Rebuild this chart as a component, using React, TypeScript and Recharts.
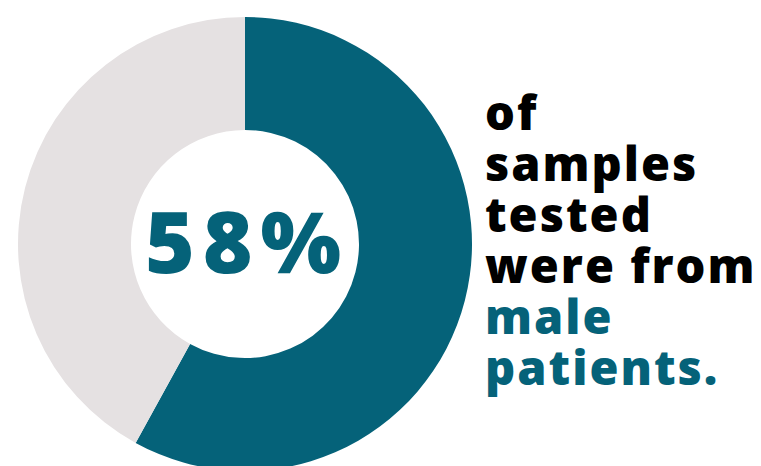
import React from "react";
import { PieChart, Pie, Cell, Customized } from "recharts";

const categories = ["Male", "Female"];
const shares = [58, 42];
const colors = ["#056279", "#E5E1E2"];
const centerLabel = "58%";
const captionLines = ["of", "samples", "tested", "were from", "male", "patients."];
const captionColors = ["#000000", "#000000", "#000000", "#000000", "#056279", "#056279"];

const data = categories.map((name, i) => ({ name, value: shares[i] }));

const FONT = "'Open Sans', 'Noto Sans', sans-serif";

const Texts = () => (
  <g>
    <text x={247} y={273} textAnchor="middle" fontFamily={FONT} fontWeight={800} fontSize={85} letterSpacing={8} fill="#056279">
      {centerLabel}
    </text>
    <text x={485} y={130} fontFamily={FONT} fontWeight={800} fontSize={47} letterSpacing={2}>
      {captionLines.map((t, i) => (
        <tspan key={t} x={485} dy={i === 0 ? 0 : 51} fill={captionColors[i]}>
          {t}
        </tspan>
      ))}
    </text>
  </g>
);

export default function App() {
  return (
    <div style={{ position: "fixed", left: 0, top: 0, width: 761, height: 466, background: "#fff" }}>
      <PieChart width={761} height={466} margin={{ top: 0, right: 0, bottom: 0, left: 0 }}>
        <Pie
          data={data}
          dataKey="value"
          nameKey="name"
          cx={245}
          cy={244}
          innerRadius={114}
          outerRadius={227}
          startAngle={90}
          endAngle={-270}
          stroke="none"
          isAnimationActive={false}
        >
          {data.map((d, i) => (
            <Cell key={d.name} fill={colors[i]} />
          ))}
        </Pie>
        <Customized component={Texts} />
      </PieChart>
    </div>
  );
}
